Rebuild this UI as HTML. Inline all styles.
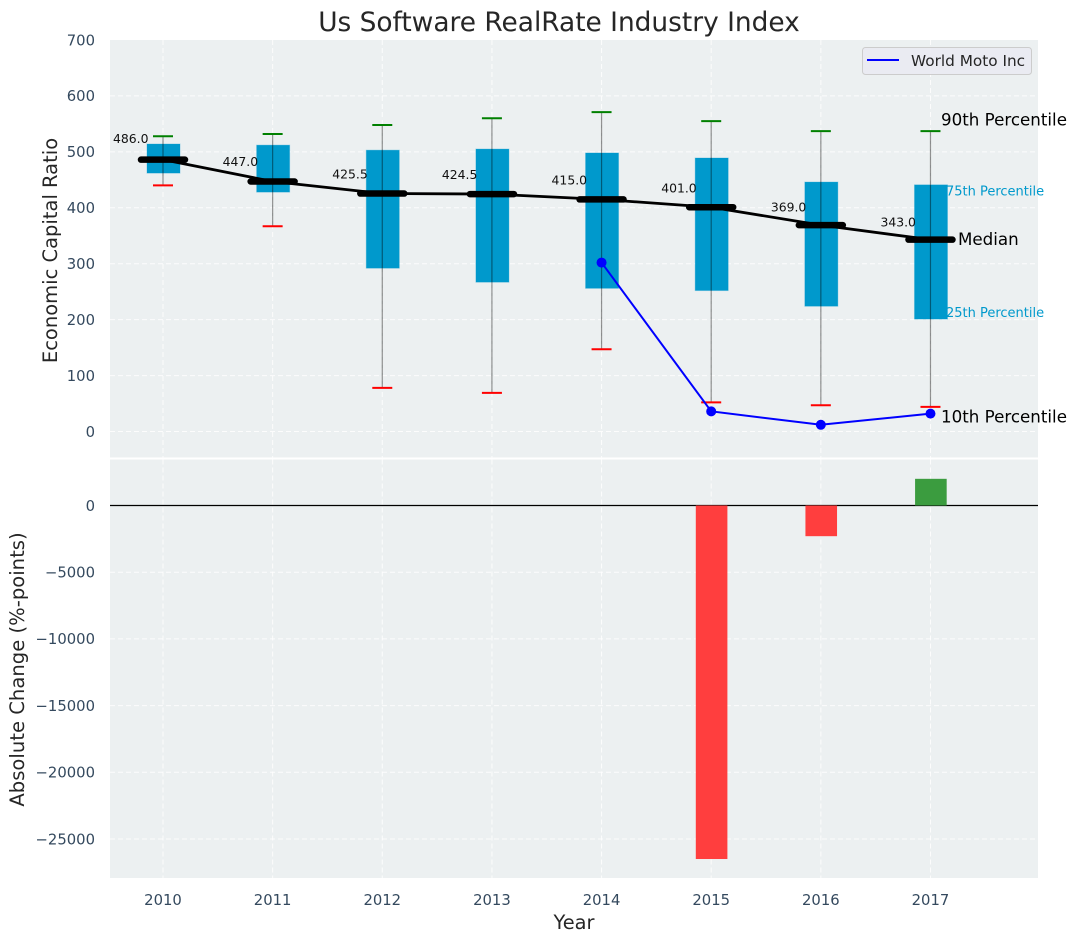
<!DOCTYPE html>
<html lang="en">
<head>
<meta charset="utf-8">
<title>Us Software RealRate Industry Index</title>
<style>
html,body{margin:0;padding:0;background:#fff;width:1076px;height:942px;overflow:hidden}
svg{display:block;font-family:"DejaVu Sans","Liberation Sans",sans-serif}
</style>
</head>
<body>
<svg id="chart" xmlns="http://www.w3.org/2000/svg" width="1076" height="942" viewBox="0 0 1076 942"></svg>
<script>
const years = [2010, 2011, 2012, 2013, 2014, 2015, 2016, 2017];
const p90 = [528, 532, 548, 560, 571, 555, 537, 537];
const p75 = [514, 512, 503, 505, 498, 489, 446, 441];
const medians = [486.0, 447.0, 425.5, 424.5, 415.0, 401.0, 369.0, 343.0];
const p25 = [462, 428, 292, 267, 256, 252, 224, 201];
const p10 = [440, 367, 78, 69, 147, 52, 47, 44];
const companyYears = [2014, 2015, 2016, 2017];
const companyValues = [302, 36, 12, 32];
const changeYears = [2015, 2016, 2017];
const changeValues = [-26500, -2300, 2000];
const topTicks = [0, 100, 200, 300, 400, 500, 600, 700];
const bottomTicks = [0, -5000, -10000, -15000, -20000, -25000];

const NS = 'http://www.w3.org/2000/svg';
const svg = document.getElementById('chart');
const plotLeft = 110, plotRight = 1038;
const topStart = 40, topEnd = 457.5, bottomStart = 459.5, bottomEnd = 878;

function xScale(year) { return 163 + (year - 2010) * 109.64; }
function yTop(value) { return 431.5 - value * 0.5593; }
function yBottom(value) { return 505.5 - value * 0.01334; }

function make(tag, attrs) {
  const el = document.createElementNS(NS, tag);
  for (const key in attrs) el.setAttribute(key, attrs[key]);
  svg.appendChild(el);
  return el;
}
function label(content, attrs) {
  const el = make('text', attrs);
  el.textContent = content;
  return el;
}

let el;
el = make('rect', {x: plotLeft, y: topStart, width: plotRight - plotLeft, height: topEnd - topStart, fill: '#ecf0f1'});


el = make('rect', {x: plotLeft, y: bottomStart, width: plotRight - plotLeft, height: bottomEnd - bottomStart, fill: '#ecf0f1'});



const gridStyle = {stroke: '#ffffff', 'stroke-width': 1, 'stroke-dasharray': '5 3', opacity: 0.85};
topTicks.forEach(function (t) {
  if (t === 700) { return; }
  el = make('line', Object.assign({x1: plotLeft, x2: plotRight, y1: yTop(t), y2: yTop(t)}, gridStyle));
  
  
});
bottomTicks.forEach(function (t) {
  el = make('line', Object.assign({x1: plotLeft, x2: plotRight, y1: yBottom(t), y2: yBottom(t)}, gridStyle));
  
  
});
years.forEach(function (yr) {
  el = make('line', Object.assign({x1: xScale(yr), x2: xScale(yr), y1: topStart, y2: topEnd}, gridStyle));
  
  
  el = make('line', Object.assign({x1: xScale(yr), x2: xScale(yr), y1: bottomStart, y2: bottomEnd}, gridStyle));
  
  
});

years.forEach(function (yr, i) {
  const cx = xScale(yr);
  el = make('rect', {x: cx - 16, y: yTop(p75[i]), width: 33, height: yTop(p25[i]) - yTop(p75[i]), fill: '#0099cc', stroke: '#0099cc', 'stroke-opacity': 0.3, 'stroke-width': 1});
  
  
  el = make('line', {x1: cx, x2: cx, y1: yTop(p90[i]), y2: yTop(p10[i]), stroke: '#000000', 'stroke-opacity': 0.42, 'stroke-width': 1.2});
  
  
  el = make('line', {x1: cx - 10, x2: cx + 10, y1: yTop(p90[i]), y2: yTop(p90[i]), stroke: '#008000', 'stroke-width': 2});
  
  
  el = make('line', {x1: cx - 10, x2: cx + 10, y1: yTop(p10[i]), y2: yTop(p10[i]), stroke: '#ff0000', 'stroke-width': 2});
  
  
});

el = make('polyline', {points: years.map(function (yr, i) { return xScale(yr) + ',' + yTop(medians[i]); }).join(' '), fill: 'none', stroke: '#000000', 'stroke-width': 2.8});



years.forEach(function (yr, i) {
  const cx = xScale(yr);
  const my = yTop(medians[i]);
  el = make('line', {x1: cx - 22, x2: cx + 22, y1: my, y2: my, stroke: '#000000', 'stroke-width': 6.5, 'stroke-linecap': 'round'});
  
  
  el = label(medians[i].toFixed(1), {x: cx - 50, y: my - (8.1 + 0.0259 * medians[i]) + 4, 'font-size': 12.4, fill: '#111111'});
  
  
});

el = make('polyline', {points: companyYears.map(function (yr, i) { return xScale(yr) + ',' + yTop(companyValues[i]); }).join(' '), fill: 'none', stroke: '#0000ff', 'stroke-width': 2});


companyYears.forEach(function (yr, i) {
  el = make('circle', {cx: xScale(yr), cy: yTop(companyValues[i]), r: 5, fill: '#0000ff'});
  
  
});

el = make('line', {x1: plotLeft, x2: plotRight, y1: yBottom(0), y2: yBottom(0), stroke: '#000000', 'stroke-width': 1.3});


changeYears.forEach(function (yr, i) {
  const v = changeValues[i];
  const y0 = Math.min(yBottom(v), yBottom(0));
  const h = Math.abs(yBottom(v) - yBottom(0));
  el = make('rect', {x: xScale(yr) - 15.4, y: y0, width: 31.6, height: h, fill: v < 0 ? '#ff3e3e' : '#3b9c3f'});
  
  
});

topTicks.forEach(function (t) {
  el = label(String(t), {x: 95, y: yTop(t) + 5.3, 'text-anchor': 'end', 'font-size': 14.8, fill: '#34495e'});
  
  
});
bottomTicks.forEach(function (t) {
  el = label(String(t).replace('-', '\u2212'), {x: 95, y: yBottom(t) + 5.3, 'text-anchor': 'end', 'font-size': 14.8, fill: '#34495e'});
  
  
});
years.forEach(function (yr) {
  el = label(String(yr), {x: xScale(yr), y: 905, 'text-anchor': 'middle', 'font-size': 14.8, fill: '#34495e'});
  
  
});

const lastIndex = years.length - 1;
const lastX = xScale(years[lastIndex]);
el = label('90th Percentile', {x: lastX + 10.5, y: yTop(p90[lastIndex]) - 5.5, 'font-size': 16.7, fill: '#000000'});


el = label('75th Percentile', {x: lastX + 15.5, y: yTop(p75[lastIndex]) + 10.5, 'font-size': 13, fill: '#0099cc'});


el = label('Median', {x: lastX + 27.5, y: yTop(medians[lastIndex]) + 5.5, 'font-size': 16.7, fill: '#000000'});


el = label('25th Percentile', {x: lastX + 15.5, y: yTop(p25[lastIndex]) - 2, 'font-size': 13, fill: '#0099cc'});


el = label('10th Percentile', {x: lastX + 10.5, y: yTop(p10[lastIndex]) + 15.5, 'font-size': 16.7, fill: '#000000'});



el = make('rect', {x: 862.5, y: 47.5, width: 169, height: 27, rx: 3, fill: '#eaeaf2', 'fill-opacity': 0.9, stroke: '#cccccc', 'stroke-width': 1});


el = make('line', {x1: 867, x2: 899, y1: 60, y2: 60, stroke: '#0000ff', 'stroke-width': 2});


el = label('World Moto Inc', {x: 911, y: 66, 'font-size': 15.3, fill: '#262626'});



el = label('Us Software RealRate Industry Index', {x: 559, y: 31, 'text-anchor': 'middle', 'font-size': 26.4, fill: '#262626'});


el = label('Year', {x: 574, y: 929, 'text-anchor': 'middle', 'font-size': 19.4, fill: '#262626'});


el = label('Economic Capital Ratio', {x: 0, y: 0, transform: 'translate(57,250.5) rotate(-90)', 'text-anchor': 'middle', 'font-size': 19.5, fill: '#262626'});


el = label('Absolute Change (%-points)', {x: 0, y: 0, transform: 'translate(24,669.5) rotate(-90)', 'text-anchor': 'middle', 'font-size': 19.6, fill: '#262626'});


</script>
</body>
</html>
